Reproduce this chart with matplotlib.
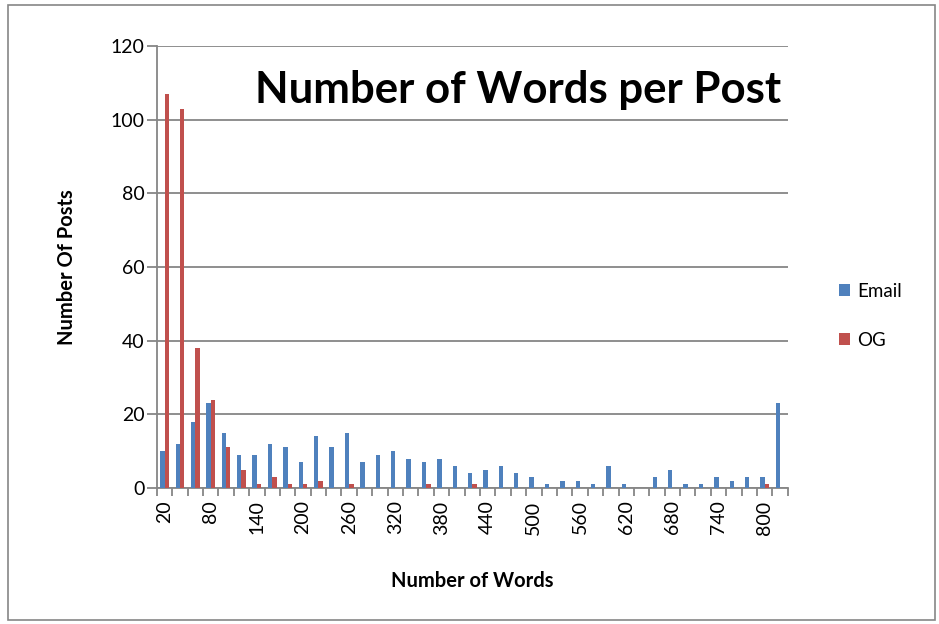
import numpy as np
import matplotlib.pyplot as plt
from matplotlib.patches import Rectangle

plt.rcParams['font.family'] = ['Lato', 'DejaVu Sans']

# word-count bins (last bin is the overflow bin, unlabelled)
bins = list(range(20, 840, 20))
tick_labels = [str(b) if (i % 3 == 0 and b <= 800) else '' for i, b in enumerate(bins)]

email = [10, 12, 18, 23, 15, 9, 9, 12, 11, 7, 14, 11, 15, 7, 9, 10, 8, 7, 8, 6,
         4, 5, 6, 4, 3, 1, 2, 2, 1, 6, 1, 0, 3, 5, 1, 1, 3, 2, 3, 3, 23]
og = [107, 103, 38, 24, 11, 5, 1, 3, 1, 1, 2, 0, 1, 0, 0, 0, 0, 1, 0, 0,
      1, 0, 0, 0, 0, 0, 0, 0, 0, 0, 0, 0, 0, 0, 0, 0, 0, 0, 0, 1, 0]

BLUE = '#4F81BD'
RED = '#C0504D'
GRID = '#868686'

fig = plt.figure(figsize=(9.39, 6.24), dpi=100)
ax = fig.add_axes([0.167, 0.218, 0.672, 0.708])

x = np.arange(len(bins))
w = 1 / 3.5
ax.bar(x - w / 2, email, width=w, color=BLUE, label='Email', zorder=3)
ax.bar(x + w / 2, og, width=w, color=RED, label='OG', zorder=3)

ax.set_xlim(-0.5, len(bins) - 0.5)
ax.set_ylim(0, 120)
ax.set_yticks(range(0, 121, 20))
ax.yaxis.grid(True, color=GRID, lw=1.3, zorder=0)

# category tick marks at boundaries, labels at centers
ax.set_xticks(np.arange(-0.5, len(bins), 1), minor=False)
ax.set_xticklabels([])
ax.set_xticks(x, minor=True)
ax.set_xticklabels(tick_labels, minor=True, rotation=90, fontsize=14)
ax.tick_params(axis='x', which='major', length=6, color=GRID, width=1.3)
ax.tick_params(axis='x', which='minor', length=0, pad=9)
ax.tick_params(axis='y', length=7, color=GRID, width=1.3, labelsize=14, pad=2)

for s in ['top', 'right']:
    ax.spines[s].set_visible(False)
for s in ['left', 'bottom']:
    ax.spines[s].set_color(GRID)
    ax.spines[s].set_linewidth(1.3)

ax.set_xlabel('Number of Words', fontsize=14.5, fontweight='bold', labelpad=26)
ax.set_ylabel('Number Of Posts', fontsize=14.5, fontweight='bold', labelpad=24)
ax.text(0.99, 0.945, 'Number of Words per Post', transform=ax.transAxes,
        ha='right', va='top', fontsize=31.5, fontweight='bold', zorder=4)

ax.legend(loc='center left', bbox_to_anchor=(1.055, 0.39), frameon=False,
          fontsize=13.5, handlelength=0.55, handleheight=0.55, labelspacing=1.7,
          handletextpad=0.4)

fig.patches.append(Rectangle((0.008, 0.006), 0.988, 0.986, transform=fig.transFigure,
                             fill=False, edgecolor=GRID, lw=1.2))

fig.savefig('out.png', dpi=100)
